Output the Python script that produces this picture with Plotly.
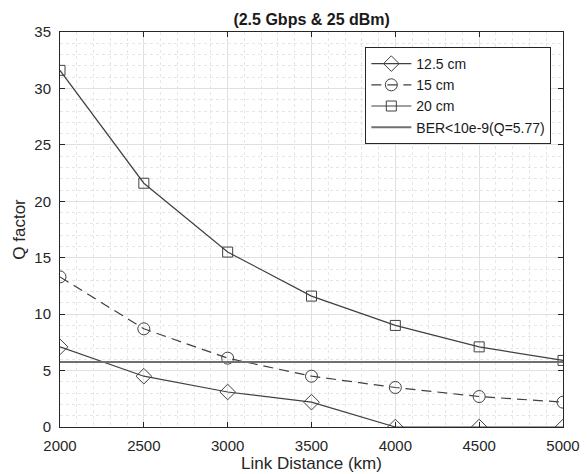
import plotly.graph_objects as go

distance_km = [2000, 2500, 3000, 3500, 4000, 4500, 5000]
q_12_5cm = [7.1, 4.5, 3.1, 2.2, 0.0, 0.0, 0.0]
q_15cm = [13.3, 8.7, 6.1, 4.5, 3.5, 2.7, 2.2]
q_20cm = [31.6, 21.6, 15.5, 11.6, 9.0, 7.1, 5.9]
ber_q = 5.77

line_col = "#404040"
FONT = "Liberation Sans, Arial"
fig = go.Figure()
fig.add_trace(go.Scatter(x=distance_km, y=q_12_5cm, name="12.5 cm", mode="lines+markers",
                         line=dict(color=line_col, width=1.2),
                         marker=dict(symbol="diamond-open", size=12, color=line_col, line=dict(width=1))))
fig.add_trace(go.Scatter(x=distance_km, y=q_15cm, name="15 cm", mode="lines+markers",
                         line=dict(color=line_col, width=1.2, dash="10px,6px"),
                         marker=dict(symbol="circle-open", size=12, color=line_col, line=dict(width=1))))
fig.add_trace(go.Scatter(x=distance_km, y=q_20cm, name="20 cm", mode="lines+markers",
                         line=dict(color=line_col, width=1.2),
                         marker=dict(symbol="square-open", size=10, color=line_col, line=dict(width=1))))
fig.add_trace(go.Scatter(x=[distance_km[0], distance_km[-1]], y=[ber_q, ber_q], name="BER<10e-9(Q=5.77)",
                         mode="lines", line=dict(color="#707070", width=2)))

axis_common = dict(
    showline=True, linecolor="#262626", linewidth=1, mirror="ticks",
    ticks="inside", ticklen=5, tickcolor="#262626",
    showgrid=True, gridcolor="#e0e0e0", gridwidth=1,
    zeroline=False, automargin=False,
    tickfont=dict(family=FONT, size=15, color="#262626"),
)
fig.update_layout(
    width=588, height=474,
    margin=dict(l=60, r=25, t=32, b=47),
    paper_bgcolor="white", plot_bgcolor="white",
    title=dict(text="<b>(2.5 Gbps & 25 dBm)</b>", x=0.53, xanchor="center", y=0.96, yanchor="middle",
               font=dict(family=FONT, size=16, color="#1a1a1a")),
    font=dict(family=FONT, color="#262626"),
    legend=dict(x=0.607, y=0.962, xanchor="left", yanchor="top",
                bgcolor="white", bordercolor="#262626", borderwidth=1,
                font=dict(family=FONT, size=14, color="#1a1a1a"),
                tracegroupgap=0, itemwidth=40),
    showlegend=True,
)
fig.update_xaxes(range=[2000, 5000], dtick=500, ticklabelstandoff=5, **axis_common,
                 minor=dict(dtick=100, showgrid=True, gridcolor="#e6e6e6", griddash="dot", ticks=""),
                 title=dict(text="Link Distance (km)", standoff=1,
                            font=dict(family=FONT, size=17, color="#262626")))
fig.update_yaxes(range=[0, 35], dtick=5, ticklabelstandoff=5, **axis_common,
                 minor=dict(dtick=1, showgrid=True, gridcolor="#e6e6e6", griddash="dot", ticks=""),
                 title=dict(text="Q factor", standoff=4,
                            font=dict(family=FONT, size=17, color="#262626")))
fig.write_html("out.html")
